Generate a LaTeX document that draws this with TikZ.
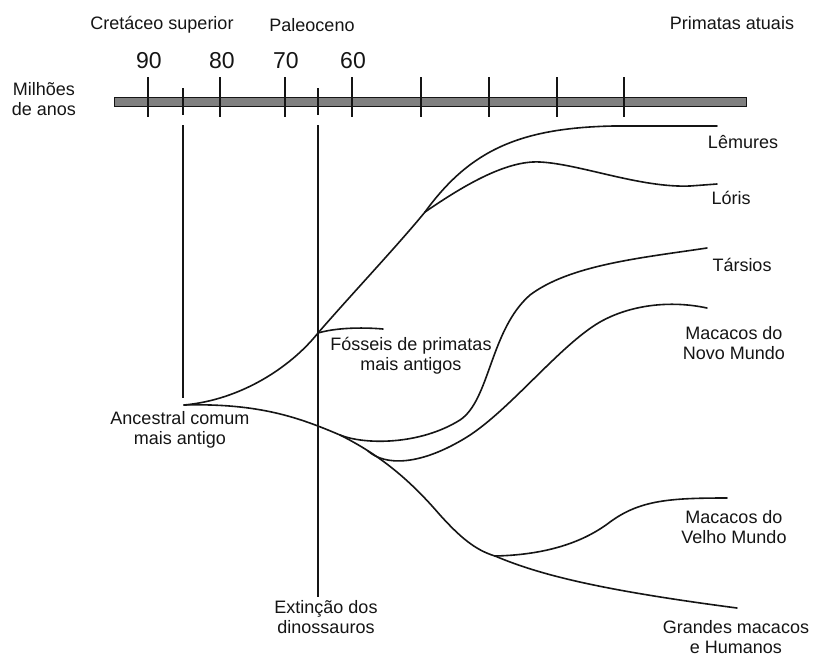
\documentclass[tikz,border=0pt]{standalone}
\usepackage{fontspec}
\setmainfont{Liberation Sans}
\newcommand\lbfont{\fontsize{18}{20}\selectfont}
\newcommand\numfont{\fontsize{23}{26}\selectfont}
\definecolor{ink}{HTML}{151515}
\definecolor{bargray}{HTML}{808080}
\begin{document}
\begin{tikzpicture}[x=1pt,y=-1pt,
  lbl/.style={font=\lbfont, align=center, inner sep=0pt, text=ink},
  num/.style={font=\numfont, inner sep=0pt, text=ink},
  branch/.style={draw=ink, line width=1.6pt, line cap=round, line join=round},
  tick/.style={draw=ink, line width=1.6pt},
  marker/.style={draw=ink, line width=1.8pt}]
\useasboundingbox (0,0) rectangle (814,657);
\fill[white] (0,0) rectangle (814,657);

% headings
\node[lbl] (cret) at (162,25) {Cretáceo superior};
\node[lbl] (pal) at (312,25) {Paleoceno};
\node[lbl] (prim) at (732,23) {Primatas atuais};
\node[lbl] (mil) at (44,99) {Milhões\\de anos};

% numbers
\node[num] (n90) at (149,61) {90};
\node[num] (n80) at (222,61) {80};
\node[num] (n70) at (286,61) {70};
\node[num] (n60) at (353,61) {60};

% bar
\node[draw=ink, fill=bargray, line width=1.2pt, inner sep=0pt, minimum width=632pt, minimum height=9pt, anchor=north west] (bar) at (114,97) {};

% tall ticks
\foreach \tx [count=\i] in {148,220,285,352,421,489,557,624}{
  \coordinate (tt\i) at (\tx,77);
  \coordinate (tb\i) at (\tx,117);
  \draw[tick] (tt\i) -- (tb\i);
}
% short ticks
\coordinate (s1t) at (183,88); \coordinate (s1b) at (183,115);
\coordinate (s2t) at (318,88); \coordinate (s2b) at (318,115);
\draw[tick] (s1t) -- (s1b);
\draw[tick] (s2t) -- (s2b);

% labels
\node[lbl] (anclbl) at (180,430) {Ancestral comum\\mais antigo};
\node[lbl] (foslbl) at (411,356) {Fósseis de primatas\\mais antigos};
\node[lbl] (extlbl) at (326,617) {Extinção dos\\dinossauros};
\node[lbl] (lemlbl) at (743,142) {Lêmures};
\node[lbl] (lorlbl) at (731,198) {Lóris};
\node[lbl] (tarlbl) at (742,265) {Társios};
\node[lbl] (nwlbl) at (734,343) {Macacos do\\Novo Mundo};
\node[lbl] (owlbl) at (734,527) {Macacos do\\Velho Mundo};
\node[lbl] (gmlbl) at (736,637) {Grandes macacos\\e Humanos};

% junctions
\coordinate (anc) at (184,405);
\coordinate (fos) at (318,333);
\coordinate (lem) at (425,212);
\coordinate (spl1) at (340,435);
\coordinate (spl2) at (368,451);
\coordinate (owj) at (495,556);
\coordinate (lemend) at (717,126);
\coordinate (lorend) at (717,184);
\coordinate (tarend) at (707,248);
\coordinate (nwend) at (707,308);
\coordinate (owend) at (727,498);
\coordinate (gmend) at (737,608);
\coordinate (fosend) at (383,329);

% vertical markers
\coordinate (v1t) at (183,125); \coordinate (v1b) at (183,398);
\coordinate (v2t) at (318,125); \coordinate (v2b) at (318,597);
\draw[marker] (v1t) -- (v1b);
\draw[marker] (v2t) -- (v2b);

% branches
\draw[branch] (anc) .. controls (240,400) and (290,368) .. (fos)
  .. controls (350,296) and (398,245) .. (lem);
\draw[branch] (lem) .. controls (470,150) and (520,128) .. (613,126) -- (lemend);
\draw[branch] (lem) .. controls (460,188) and (505,160) .. (540,162)
  .. controls (580,164) and (640,188) .. (690,186) -- (lorend);
\draw[branch] (fos) .. controls (335,328) and (360,327) .. (fosend);
\draw[branch] (anc) .. controls (260,403) and (300,418) .. (spl1)
  .. controls (380,455) and (410,480) .. (440,515)
  .. controls (460,537) and (475,550) .. (owj);
\draw[branch] (spl1) .. controls (365,445) and (420,445) .. (460,420)
  .. controls (490,400) and (490,330) .. (530,295)
  .. controls (570,265) and (640,258) .. (tarend);
\draw[branch] (spl2) .. controls (385,466) and (420,466) .. (467,437)
  .. controls (510,410) and (560,345) .. (600,322)
  .. controls (630,305) and (670,300) .. (nwend);
\draw[branch] (owj) .. controls (540,555) and (580,545) .. (610,522)
  .. controls (640,500) and (670,498) .. (owend);
\draw[branch] (owj) .. controls (540,575) and (600,590) .. (gmend);
\end{tikzpicture}
\end{document}
